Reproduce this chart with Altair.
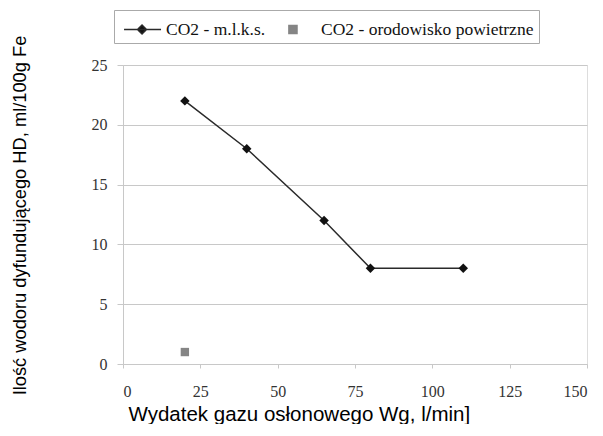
import altair as alt
import pandas as pd

# Data
mlks_x = [20, 40, 65, 80, 110]
mlks_y = [22, 18, 12, 8, 8]
air_x = [20]
air_y = [1]
series_names = ["CO2 - m.l.k.s.", "CO2 - orodowisko powietrzne"]
x_ticks = [0, 25, 50, 75, 100, 125, 150]
y_ticks = [0, 5, 10, 15, 20, 25]

df = pd.DataFrame({
    "x": mlks_x + air_x,
    "y": mlks_y + air_y,
    "series": [series_names[0]] * len(mlks_x) + [series_names[1]] * len(air_x),
})

GRID = "#c8c8c8"
LABEL_FONT = "Liberation Serif"
TITLE_FONT = "Liberation Sans"

x_enc = alt.X("x:Q", scale=alt.Scale(domain=[0, 150], nice=False),
              axis=alt.Axis(values=x_ticks, grid=False, domainColor=GRID, tickColor=GRID,
                            tickSize=4, labelPadding=15, labelFont=LABEL_FONT, labelFontSize=16,
                            labelColor="#333333", title="Wydatek gazu osłonowego Wg, l/min]",
                            titleFont=TITLE_FONT, titleFontSize=20.5, titleFontWeight="normal",
                            titleColor="#000000", titleX=5, titleY=56, titleAlign="left",
                            titleBaseline="alphabetic"))
y_enc = alt.Y("y:Q", scale=alt.Scale(domain=[0, 25], nice=False),
              axis=alt.Axis(values=y_ticks, grid=True, gridColor=GRID, domainColor=GRID,
                            tickColor=GRID, tickSize=6, labelPadding=10, labelFont=LABEL_FONT,
                            labelFontSize=16, labelColor="#333333",
                            title="Ilość wodoru dyfundującego HD, ml/100g Fe",
                            titleFont=TITLE_FONT, titleFontSize=18.3, titleFontWeight="normal",
                            titleColor="#000000", titleX=-103, titleY=150, titleAngle=270,
                            titleAlign="center", titleBaseline="middle"))

base = alt.Chart(df)

line = base.transform_filter(alt.datum.series == series_names[0]).mark_line(
    color="#2a2a2a", strokeWidth=1.5).encode(x=x_enc, y=y_enc)

diamonds = base.transform_filter(alt.datum.series == series_names[0]).mark_point(
    shape="diamond", filled=True, size=90, color="#111111", opacity=1).encode(x="x:Q", y="y:Q")

squares = base.transform_filter(alt.datum.series == series_names[1]).mark_point(
    shape="square", filled=True, size=70, color="#858585", opacity=1).encode(x="x:Q", y="y:Q")

line_sym = "M-0.7,0H2.04M0.63,-0.33L0.96,0L0.63,0.33L0.3,0Z"
sq_sym = "M0.03,-0.3H0.63V0.3H0.03Z"

legend = alt.Legend(orient="none", legendX=-9, legendY=-55, direction="horizontal",
                    title=None, labelFont=LABEL_FONT, labelFontSize=17.5, labelColor="#111111",
                    labelLimit=0, symbolSize=729, symbolStrokeWidth=1.5, symbolOpacity=1,
                    symbolFillColor="#111111", symbolStrokeColor="#2a2a2a",
                    labelOffset=18, columnPadding=8,
                    padding=5, strokeColor="#aaaaaa", fillColor="white")

legend_layer = base.mark_point(filled=True, opacity=0).encode(
    x="x:Q", y="y:Q",
    shape=alt.Shape("series:N", scale=alt.Scale(domain=series_names, range=[line_sym, sq_sym]),
                    legend=legend),
    fill=alt.Fill("series:N", scale=alt.Scale(domain=series_names, range=["#111111", "#858585"]),
                  legend=legend),
    stroke=alt.Stroke("series:N", scale=alt.Scale(domain=series_names, range=["#2a2a2a", "#858585"]),
                      legend=legend),
)

chart = alt.layer(line, diamonds, squares, legend_layer).properties(
    width=464, height=299,
    autosize=alt.AutoSizeParams(type="none"),
    padding={"left": 115, "top": 57, "right": 8, "bottom": 60},
).configure_view(stroke=None).configure(background="white")

chart.save("out.html", embed_options={"renderer": "svg", "actions": False})
